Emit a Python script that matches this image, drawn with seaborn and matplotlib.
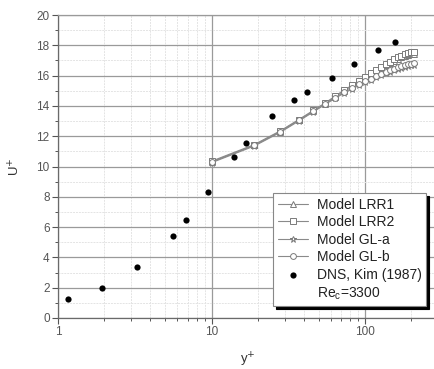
import numpy as np
import pandas as pd
import seaborn as sns
import matplotlib
matplotlib.use("Agg")
import matplotlib.pyplot as plt
from matplotlib.lines import Line2D
from matplotlib.ticker import LogLocator, MultipleLocator, FixedLocator, FixedFormatter, NullFormatter

sns.set_style("white")
plt.rcParams["font.family"] = ["Liberation Sans", "DejaVu Sans"]

# Wall distance for the model profiles
y_model = [10, 19, 28, 37, 46, 55, 64, 73, 82, 91, 100, 109, 118, 127,
           136, 145, 154, 163, 172, 181, 190, 199, 208]
u_lrr1 = [10.3, 11.4, 12.3, 13.05, 13.65, 14.15, 14.6, 15.0, 15.3, 15.6,
          15.85, 16.1, 16.3, 16.5, 16.7, 16.85, 16.98, 17.1, 17.2, 17.28,
          17.35, 17.4, 17.45]
u_lrr2 = [10.35, 11.45, 12.35, 13.1, 13.7, 14.2, 14.65, 15.05, 15.35, 15.65,
          15.9, 16.15, 16.38, 16.58, 16.78, 16.93, 17.07, 17.2, 17.3, 17.4,
          17.47, 17.53, 17.58]
u_gla = [10.25, 11.35, 12.25, 13.0, 13.6, 14.1, 14.5, 14.85, 15.1, 15.35,
         15.55, 15.72, 15.88, 16.02, 16.15, 16.26, 16.36, 16.45, 16.52, 16.58,
         16.63, 16.67, 16.7]
u_glb = [10.3, 11.4, 12.3, 13.05, 13.65, 14.15, 14.55, 14.9, 15.17, 15.42,
         15.63, 15.8, 15.97, 16.11, 16.24, 16.36, 16.46, 16.55, 16.62, 16.69,
         16.74, 16.78, 16.81]

# DNS reference data, Kim et al. (1987)
y_dns = [1.16, 1.94, 3.27, 5.6, 6.8, 9.5, 14.0, 16.8, 24.9, 34.3, 41.7,
         60.7, 85.2, 121, 156]
u_dns = [1.25, 1.98, 3.37, 5.43, 6.45, 8.3, 10.63, 11.53, 13.31, 14.37,
         14.94, 15.84, 16.79, 17.69, 18.22]

model_names = ["Model LRR1", "Model LRR2", "Model GL-a", "Model GL-b"]
model_values = [u_lrr1, u_lrr2, u_gla, u_glb]
model_markers = ["^", "s", "*", "o"]
model_sizes = [4.2, 3.8, 5.0, 4.2]

fig = plt.figure(figsize=(4.34, 3.69), dpi=100)
ax = fig.add_axes([58 / 434, 1 - 318 / 369, 380.3 / 434, 303 / 369])

line_color = "#8a8a8a"
for name, vals, mk, ms in zip(model_names, model_values, model_markers, model_sizes):
    df = pd.DataFrame({"y": y_model, "u": vals})
    sns.lineplot(data=df, x="y", y="u", ax=ax, color=line_color, lw=0.8,
                 marker=mk, markersize=ms, markerfacecolor="white",
                 markeredgecolor="#7a7a7a", markeredgewidth=0.7,
                 sort=False, zorder=3, label=name)

dns = pd.DataFrame({"y": y_dns, "u": u_dns})
sns.scatterplot(data=dns, x="y", y="u", ax=ax, color="black", s=20,
                edgecolor="black", linewidth=0, zorder=4,
                label="DNS, Kim (1987)")

ax.set_xscale("log")
ax.set_xlim(1, 300)
ax.set_ylim(0, 20)

ax.yaxis.set_major_locator(MultipleLocator(2))
ax.yaxis.set_minor_locator(MultipleLocator(1))
ax.xaxis.set_major_locator(FixedLocator([1, 10, 100]))
ax.xaxis.set_major_formatter(FixedFormatter(["1", "10", "100"]))
ax.xaxis.set_minor_locator(LogLocator(base=10, subs=np.arange(2, 10)))
ax.xaxis.set_minor_formatter(NullFormatter())

ax.grid(True, which="major", color="#9a9a9a", lw=0.9)
ax.grid(True, which="minor", color="#e4e4e4", lw=0.7, ls=(0, (2, 1)))
ax.set_axisbelow(True)

for sp in ax.spines.values():
    sp.set_color("#6a6a6a")
    sp.set_linewidth(0.9)
ax.spines["top"].set_color("#9a9a9a")

ax.tick_params(which="major", direction="out", length=4, width=0.8,
               color="#555555", labelsize=8.5, labelcolor="#555555",
               left=True, bottom=True, pad=2)
ax.tick_params(which="minor", direction="out", length=2.2, width=0.7,
               color="#555555", left=True, bottom=True)

ax.set_xlabel("y$^{+}$", fontsize=9.5, color="#333333", labelpad=9)
ax.set_ylabel("U$^{+}$", fontsize=9.5, color="#333333", labelpad=10)

handles, labels = ax.get_legend_handles_labels()
handles.append(Line2D([], [], linestyle="none", marker=None))
labels.append("Re$_\\mathregular{c}$=3300")
leg = ax.legend(handles, labels, loc="upper left",
                bbox_to_anchor=((273 - 58) / 380.3, 1 - (193 - 15) / 303),
                fontsize=10, frameon=True, fancybox=False, framealpha=1,
                edgecolor="#888888", shadow={"color": "black", "alpha": 1},
                handlelength=2.2, handletextpad=0.6, labelspacing=0.25,
                borderpad=0.35, borderaxespad=0)
leg.get_frame().set_linewidth(0.8)
for t in leg.get_texts():
    t.set_color("#222222")

fig.savefig("out.png", dpi=100)
